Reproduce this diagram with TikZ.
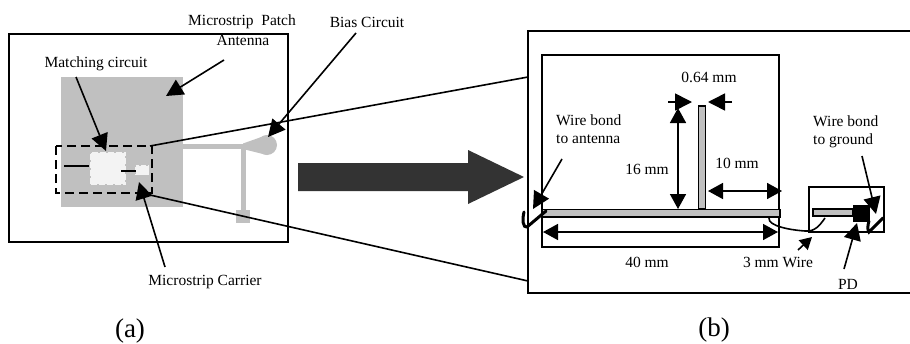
\documentclass[tikz,border=0pt]{standalone}
\usepackage{fontspec}
\setmainfont{Liberation Serif}
\usetikzlibrary{arrows.meta}
\definecolor{patch}{HTML}{C0C0C0}
\definecolor{darkarrow}{HTML}{333333}
\definecolor{paleglass}{HTML}{F3F3F3}
\tikzset{
  box/.style={draw=black,line width=1.9pt},
  lead/.style={draw=black,line width=1.6pt},
  callout/.style={draw=black,line width=1.6pt,-{Triangle[length=17pt,width=17pt]}},
  dim/.style={draw=black,line width=1.6pt,{Triangle[length=15pt,width=16pt]}-{Triangle[length=15pt,width=16pt]}},
  label/.style={inner sep=0pt,font=\fontsize{15.5}{18}\selectfont},
  caption/.style={inner sep=0pt,font=\fontsize{27}{30}\selectfont},
}
\begin{document}
\begin{tikzpicture}[x=1pt,y=-1pt]
\useasboundingbox (0,0) rectangle (910,343);
% --- panel (a)
\draw[box] (9,34) rectangle (288,242);
\fill[patch] (61,77) rectangle (183,207);
\fill[patch] (183,144) rectangle (243,149);
\fill[patch] (241,149) rectangle (246,210);
\fill[patch] (236,210) rectangle (250,223);
\fill[patch] (267,145) circle (10);
\fill[patch] (243,143.5) -- (267,135) -- (267,155) -- (243,149) -- cycle;
\fill[paleglass] (90,152) rectangle (126,185);
\fill[paleglass] (135,165) rectangle (149,175);
\draw[patch,line width=1.3pt,dash pattern=on 2pt off 6pt] (90,152) rectangle (126,185);
\draw[patch,line width=1pt,dash pattern=on 2pt off 5pt] (135,165) rectangle (149,175);
\draw[line width=1.6pt] (64,166) -- (89,166);
\draw[line width=1.6pt] (121,171) -- (136,171);
\draw[black,line width=1.9pt,dash pattern=on 9pt off 5pt] (56,146) rectangle (152,193);
\coordinate (zoomTL) at (150,146);
\coordinate (zoomBL) at (150,195);
% --- big arrow
\fill[darkarrow] (298,163) -- (468,163) -- (468,150) -- (524,177) -- (468,204) -- (468,191) -- (298,191) -- cycle;
% --- panel (b)
\draw[box] (913,31) -- (528,31) -- (528,293) -- (913,293);
\coordinate (bigTL) at (528,77);
\coordinate (bigBL) at (528,281);
\draw[lead] (zoomTL) -- (bigTL);
\draw[lead] (zoomBL) -- (bigBL);
\draw[box] (542,55) rectangle (779,247);
\draw[draw=black,fill=patch,line width=1.9pt] (698.5,106) rectangle (705.5,209);
\draw[draw=black,fill=patch,line width=1.9pt] (542,209.5) rectangle (780,217);
\draw[box] (809,187) rectangle (884,232);
\draw[draw=black,fill=patch,line width=1.5pt] (813,209) rectangle (853,216);
\fill[black] (853,205) rectangle (870,222);
% hooks and wire
\draw[line width=3pt,line cap=round] (546,211) -- (527,227) .. controls (523,228) and (522,220) .. (524,212);
\draw[line width=3pt,line cap=round] (883,218) -- (869,232) .. controls (867,230) and (868,224) .. (869,221);
\draw[line width=1.6pt] (769,218) .. controls (768,226) and (790,230) .. (805,231) .. controls (815,232) and (820,225) .. (825,218);
% --- labels
\node[label] (mpa1) at (242,22) {Microstrip\ \ Patch};
\node[label] (mpa2) at (243,40) {Antenna};
\node[label] (bias) at (367,22) {Bias Circuit};
\node[label] (match) at (96,64) {Matching circuit};
\node[label] (carrier) at (205,282) {Microstrip Carrier};
\node[caption] (capa) at (130,331) {(a)};
\node[caption] (capb) at (714,330) {(b)};
\node[label] (w064) at (709,77) {0.64 mm};
\node[label,anchor=west] (wba1) at (556,120) {Wire bond};
\node[label,anchor=west] (wba2) at (556,139) {to antenna};
\node[label] (w16) at (647,169) {16 mm};
\node[label] (w10) at (737,163) {10 mm};
\node[label] (w40) at (647,262) {40 mm};
\node[label] (wire3) at (778,262) {3 mm Wire};
\node[label,anchor=west] (wbg1) at (813,121) {Wire bond};
\node[label,anchor=west] (wbg2) at (813,141) {to ground};
\node[label] (pd) at (848,284) {PD};
% --- callouts
\coordinate (mpaS) at (224,60);   \coordinate (mpaT) at (166,96);
\coordinate (matS) at (76,77);    \coordinate (matT) at (106,151);
\coordinate (carS) at (165,267);  \coordinate (carT) at (139,182);
\coordinate (bisS) at (356,33);   \coordinate (bisT) at (268,137);
\coordinate (wbaS) at (562,159);  \coordinate (wbaT) at (533,209);
\coordinate (wbgS) at (862,156);  \coordinate (wbgT) at (876,214);
\coordinate (pdS) at (844,269);   \coordinate (pdT) at (857,223);
\coordinate (wirS) at (798,250);  \coordinate (wirT) at (812,237);
\draw[callout] (mpaS) -- (mpaT);
\draw[callout] (matS) -- (matT);
\draw[callout] (carS) -- (carT);
\draw[callout] (bisS) -- (bisT);
\draw[callout] (wbaS) -- (wbaT);
\draw[callout] (wbgS) -- (wbgT);
\draw[callout] (pdS) -- (pdT);
\draw[draw=black,line width=1.6pt,-{Triangle[length=12pt,width=13pt]}] (wirS) -- (wirT);
% --- dimensions
\coordinate (a1) at (668,102); \coordinate (a2) at (692,102);
\coordinate (b1) at (732,102); \coordinate (b2) at (708,102);
\draw[callout] (a1) -- (a2);
\draw[callout] (b1) -- (b2);
\coordinate (d16a) at (678,108); \coordinate (d16b) at (678,209);
\coordinate (d10a) at (708,191); \coordinate (d10b) at (782,191);
\coordinate (d40a) at (543,232); \coordinate (d40b) at (778,232);
\draw[dim] (d16a) -- (d16b);
\draw[dim] (d10a) -- (d10b);
\draw[dim] (d40a) -- (d40b);
\end{tikzpicture}
\end{document}
